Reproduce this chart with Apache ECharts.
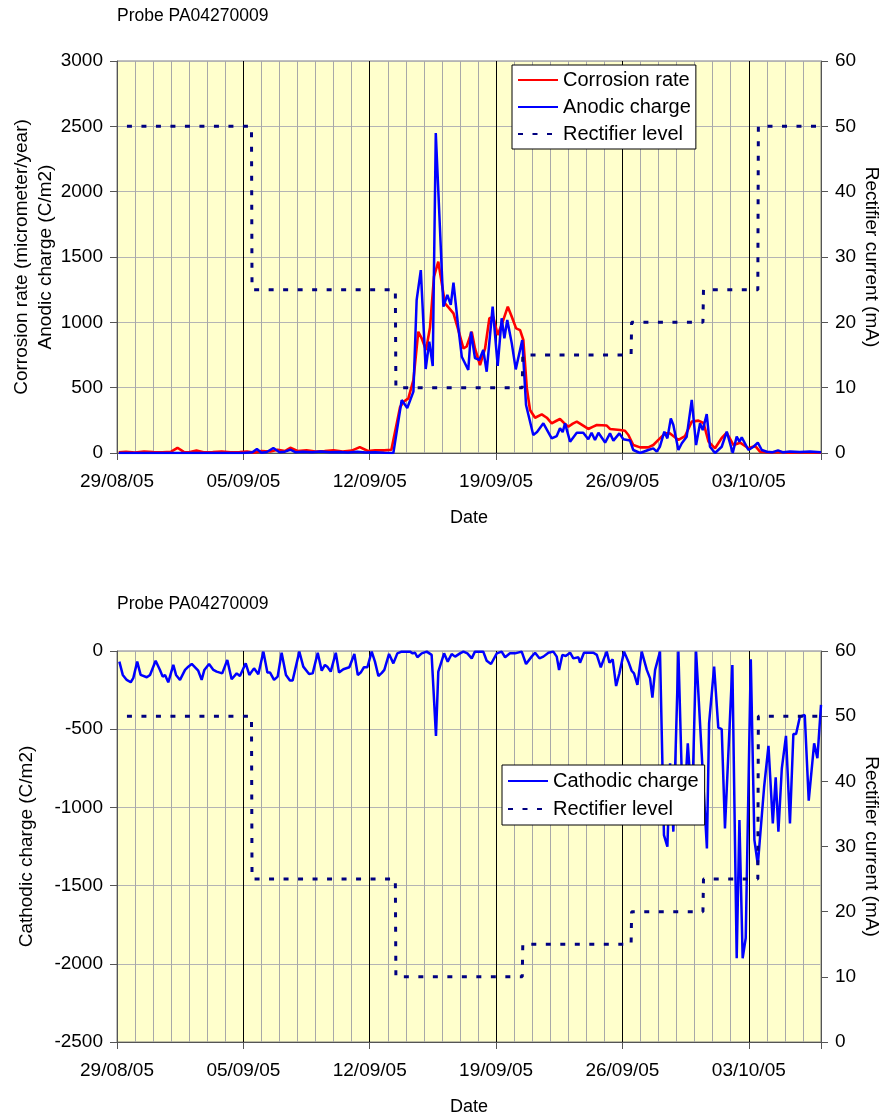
<!DOCTYPE html>
<html>
<head>
    <meta charset="utf-8">
    <script src="https://cdn.jsdelivr.net/npm/echarts@6/dist/echarts.min.js"></script>
    <style>
        body { margin: 0; background: #fff; }
    </style>
</head>
<body>
    <div id="main" style="width: 885px;height:1116px;"></div>
    <script type="text/javascript">

    // x values are days since 29/08/05 00:00
    var startDay = [2005, 7, 29];
    var probeTitle = 'Probe PA04270009';

    var corrosionRate = [
        [0.1, 5], [0.5, 10], [1.0, 4], [1.5, 12], [2.0, 8], [2.5, 5], [3.0, 10], [3.35, 40], [3.7, 8],
        [4.0, 5], [4.4, 20], [4.8, 5], [5.3, 8], [5.8, 12], [6.3, 5], [6.8, 8], [7.2, 12], [7.6, 3],
        [8.0, 15], [8.5, 12], [8.9, 25], [9.3, 15], [9.6, 40], [10.0, 15], [10.5, 20], [11.0, 12],
        [11.5, 15], [12.0, 20], [12.5, 12], [13.0, 18], [13.45, 45], [13.9, 15], [14.3, 20], [14.8, 20],
        [15.2, 25], [15.31, 20], [15.68, 350], [15.86, 390], [16.14, 418], [16.42, 558], [16.69, 928],
        [16.88, 878], [17.12, 788], [17.34, 960], [17.56, 1349], [17.8, 1464], [17.99, 1300], [18.17, 1145],
        [18.41, 1107], [18.64, 1069], [18.91, 941], [19.19, 800], [19.37, 815], [19.65, 928], [19.83, 800],
        [20.11, 673], [20.39, 800], [20.63, 1031], [20.85, 1040], [21.09, 903], [21.37, 1005], [21.65, 1120],
        [21.87, 1043], [22.11, 954], [22.33, 940], [22.51, 865], [22.7, 500], [22.88, 329], [23.16, 270],
        [23.53, 296], [23.81, 270], [24.08, 227], [24.32, 245], [24.54, 260], [24.76, 230], [25.0, 201],
        [25.25, 225], [25.47, 240], [25.76, 215], [26.11, 184], [26.35, 200], [26.58, 214], [27.13, 210],
        [27.31, 184], [27.59, 180], [27.87, 176], [28.14, 170], [28.33, 138], [28.6, 61], [28.98, 43],
        [29.43, 43], [29.71, 61], [29.99, 100], [30.36, 150], [30.64, 150], [31.1, 100], [31.47, 130],
        [31.84, 240], [32.21, 248], [32.49, 230], [32.77, 87], [33.13, 36], [33.5, 115], [33.78, 155],
        [34.15, 61], [34.52, 79], [34.98, 36], [35.35, 54], [35.62, 10], [36.18, 5], [36.73, 8],
        [37.28, 3], [37.83, 6], [38.39, 4], [39.0, 3]
    ];

    var anodicCharge = [
        [0.1, 0], [7.0, 0], [7.5, 5], [7.75, 30], [8.0, 2], [8.3, 8], [8.66, 38], [9.0, 5], [9.3, 10],
        [9.6, 25], [9.9, 5], [10.3, 10], [10.8, 5], [11.3, 12], [11.8, 5], [12.3, 8], [12.8, 3], [13.3, 10],
        [13.8, 3], [14.3, 5], [14.8, 2], [15.31, 0], [15.77, 405], [16.08, 344], [16.42, 470], [16.6, 1171],
        [16.83, 1400], [17.1, 643], [17.3, 852], [17.49, 666], [17.66, 2449], [18.08, 1120], [18.3, 1209],
        [18.49, 1133], [18.64, 1303], [18.88, 995], [19.1, 737], [19.46, 635], [19.61, 928], [19.83, 727],
        [20.07, 712], [20.29, 788], [20.48, 622], [20.81, 1120], [21.09, 666], [21.31, 1031], [21.46, 878],
        [21.62, 1018], [21.87, 839], [22.09, 640], [22.45, 865], [22.66, 367], [23.06, 138], [23.27, 160],
        [23.62, 227], [24.08, 112], [24.36, 130], [24.54, 189], [24.69, 160], [24.82, 227], [25.1, 87],
        [25.47, 155], [25.83, 155], [26.11, 105], [26.29, 155], [26.48, 100], [26.67, 155], [27.04, 80],
        [27.31, 150], [27.5, 95], [27.83, 150], [28.05, 105], [28.42, 95], [28.6, 23], [28.98, 0],
        [29.43, 23], [29.71, 35], [29.9, 10], [30.08, 50], [30.32, 163], [30.49, 112], [30.68, 265],
        [30.82, 214], [31.1, 23], [31.29, 75], [31.56, 125], [31.84, 406], [32.08, 61], [32.3, 227],
        [32.45, 175], [32.67, 298], [32.85, 48], [33.13, 0], [33.5, 48], [33.78, 163], [34.11, 0],
        [34.33, 125], [34.48, 87], [34.61, 120], [34.98, 23], [35.26, 48], [35.5, 79], [35.72, 23],
        [36.0, 10], [36.29, 5], [36.62, 20], [36.9, 5], [37.28, 12], [37.83, 8], [38.39, 12], [39.0, 5]
    ];

    var cathodicCharge = [
        [0.13, -68], [0.32, -153], [0.54, -185], [0.76, -200], [0.9, -174], [1.12, -68], [1.31, -153],
        [1.65, -168], [1.83, -153], [2.14, -62], [2.38, -121], [2.53, -164], [2.66, -153], [2.84, -200],
        [3.12, -89], [3.27, -153], [3.49, -185], [3.77, -121], [3.95, -100], [4.14, -83], [4.38, -111],
        [4.5, -126], [4.69, -185], [4.84, -121], [5.1, -83], [5.34, -121], [5.52, -132], [5.83, -143],
        [6.11, -57], [6.35, -181], [6.63, -143], [6.81, -160], [7.13, -79], [7.33, -153], [7.59, -111],
        [7.83, -149], [8.11, -4], [8.33, -138], [8.48, -138], [8.7, -185], [8.9, -164], [9.12, -11],
        [9.36, -153], [9.58, -189], [9.73, -189], [10.1, -4], [10.32, -100], [10.64, -147], [10.84, -143],
        [11.12, -11], [11.34, -126], [11.52, -89], [11.65, -100], [11.84, -132], [12.12, -11], [12.3, -138],
        [12.54, -117], [12.87, -104], [13.15, -19], [13.34, -153], [13.5, -138], [13.68, -104], [13.87, -104],
        [14.11, -4], [14.29, -68], [14.48, -160], [14.67, -140], [14.81, -121], [15.07, -19], [15.31, -79],
        [15.53, -15], [15.77, -4], [16.05, -4], [16.23, -4], [16.38, -15], [16.51, -11], [16.64, -40],
        [16.88, -15], [17.16, -4], [17.43, -25], [17.67, -543], [17.8, -132], [18.12, -15], [18.32, -68],
        [18.54, -19], [18.73, -36], [19.0, -15], [19.19, -4], [19.41, -15], [19.65, -47], [19.83, -4],
        [20.29, -4], [20.48, -62], [20.72, -83], [21.04, -15], [21.31, -4], [21.5, -40], [21.77, -15],
        [22.05, -15], [22.42, -4], [22.66, -83], [22.97, -36], [23.16, -11], [23.4, -47], [23.62, -36],
        [23.9, -11], [24.17, -4], [24.36, -36], [24.49, -121], [24.67, -25], [24.86, -32], [25.1, -11],
        [25.28, -47], [25.56, -40], [25.65, -75], [25.87, -11], [26.39, -11], [26.58, -25], [26.8, -104],
        [26.98, -47], [27.13, -4], [27.28, -75], [27.46, -53], [27.65, -224], [27.83, -143], [28.09, -4],
        [28.33, -68], [28.51, -126], [28.64, -143], [28.83, -217], [29.07, -4], [29.35, -121], [29.53, -175],
        [29.66, -298], [29.81, -121], [30.08, -4], [30.3, -1177], [30.49, -1251], [30.64, -718],
        [30.82, -1155], [31.1, -4], [31.36, -1100], [31.62, -590], [31.86, -1000], [32.08, -4],
        [32.68, -1262], [32.8, -462], [33.08, -100], [33.31, -490], [33.5, -500], [33.68, -1134],
        [34.09, -90], [34.33, -1965], [34.48, -1081], [34.66, -1965], [34.83, -1835], [35.11, -53],
        [35.31, -1208], [35.5, -1368], [35.85, -868], [36.09, -607], [36.33, -1102], [36.49, -808],
        [36.64, -1155], [36.83, -750], [37.06, -543], [37.28, -1102], [37.47, -531], [37.62, -531],
        [37.83, -420], [38.1, -409], [38.32, -957], [38.62, -590], [38.8, -686], [39.0, -345]
    ];

    var rectifierLevel = [
        [0.55, 50], [7.45, 50], [7.48, 25], [15.42, 25], [15.45, 10], [22.45, 10], [22.48, 15],
        [28.48, 15], [28.51, 20], [32.46, 20], [32.49, 25], [35.5, 25], [35.53, 50], [39, 50]
    ];

    var fontFamily = 'Liberation Sans, Arial, sans-serif';

    function fmtDate(v) {
        if (v % 7 !== 0) return '';
        var d = new Date(startDay[0], startDay[1], startDay[2] + v);
        var dd = ('0' + d.getDate()).slice(-2);
        var mm = ('0' + (d.getMonth() + 1)).slice(-2);
        var yy = ('' + d.getFullYear()).slice(-2);
        return dd + '/' + mm + '/' + yy;
    }

    function plainNum(v) {
        return String(v);
    }

    function dayAxis(gi) {
        return {
            type: 'value', gridIndex: gi, position: 'top', min: 0, max: 39, interval: 1,
            axisLine: {show: false, onZero: false},
            axisTick: {show: false},
            axisLabel: {show: false},
            splitLine: {show: true, lineStyle: {color: '#a8a8a8', width: 1}}
        };
    }

    function weekAxis(gi) {
        return {
            type: 'value', gridIndex: gi, position: 'bottom', min: 0, max: 39, interval: 7,
            name: 'Date', nameLocation: 'middle', nameGap: 56, nameMoveOverlap: false,
            nameTextStyle: {fontSize: 18, color: '#000', fontFamily: fontFamily},
            axisLine: {show: true, onZero: false, lineStyle: {color: '#555', width: 1}},
            axisTick: {show: true, length: 7, lineStyle: {color: '#555'}},
            axisLabel: {margin: 19, fontSize: 19, color: '#000', fontFamily: fontFamily, formatter: fmtDate},
            splitLine: {show: true, lineStyle: {color: '#000', width: 1}}
        };
    }

    function leftAxis(gi, min, max, name, gap) {
        return {
            type: 'value', gridIndex: gi, position: 'left', min: min, max: max, interval: 500,
            name: name, nameLocation: 'middle', nameRotate: 90, nameGap: gap, nameMoveOverlap: false,
            nameTextStyle: {fontSize: 19, color: '#000', fontFamily: fontFamily, lineHeight: 24},
            axisLine: {show: true, onZero: false, lineStyle: {color: '#555'}},
            axisTick: {show: true, length: 7, lineStyle: {color: '#555'}},
            axisLabel: {margin: 14, fontSize: 19, color: '#000', fontFamily: fontFamily, formatter: plainNum},
            splitLine: {show: true, lineStyle: {color: '#b4b4b4', width: 1}}
        };
    }

    function rightAxis(gi) {
        return {
            type: 'value', gridIndex: gi, position: 'right', min: 0, max: 60, interval: 10,
            name: 'Rectifier current (mA)', nameLocation: 'middle', nameRotate: -90, nameGap: 41, nameMoveOverlap: false,
            nameTextStyle: {fontSize: 19, color: '#000', fontFamily: fontFamily},
            axisLine: {show: true, onZero: false, lineStyle: {color: '#555'}},
            axisTick: {show: true, length: 7, lineStyle: {color: '#555'}},
            axisLabel: {margin: 14, fontSize: 19, color: '#000', fontFamily: fontFamily, formatter: plainNum},
            splitLine: {show: false}
        };
    }

    var rectStyle = {color: '#000080', width: 3, type: [5, 9.5], cap: 'butt'};
    var titleStyle = {fontSize: 17.5, fontWeight: 'normal', color: '#000', fontFamily: fontFamily};

    var myChart = echarts.init(document.getElementById('main'));

    myChart.setOption({
        animation: false,
        backgroundColor: '#fff',
        textStyle: {fontFamily: fontFamily},
        title: [
            {text: probeTitle, left: 117, top: 7, padding: 0, textStyle: titleStyle},
            {text: probeTitle, left: 117, top: 595, padding: 0, textStyle: titleStyle}
        ],
        legend: [
            {
                orient: 'vertical', left: 512, top: 65,
                data: ['Corrosion rate', 'Anodic charge', 'Rectifier level'],
                itemWidth: 40, itemHeight: 14, itemGap: 7,
                padding: [5, 5, 5, 5],
                itemStyle: {opacity: 0},
                backgroundColor: '#fff', borderColor: '#000', borderWidth: 1, borderRadius: 0,
                textStyle: {fontSize: 20, color: '#000', lineHeight: 20}
            },
            {
                orient: 'vertical', left: 502, top: 765,
                data: ['Cathodic charge', 'Rectifier level'],
                itemWidth: 40, itemHeight: 14, itemGap: 8,
                padding: [6, 6, 6, 5],
                itemStyle: {opacity: 0},
                backgroundColor: '#fff', borderColor: '#000', borderWidth: 1, borderRadius: 0,
                textStyle: {fontSize: 20, color: '#000', lineHeight: 20}
            }
        ],
        grid: [
            {left: 117, top: 61, width: 704, height: 392, outerBoundsMode: 'none', show: true, backgroundColor: '#ffffcc', borderColor: '#808080', borderWidth: 1},
            {left: 117, top: 651, width: 704, height: 391, outerBoundsMode: 'none', show: true, backgroundColor: '#ffffcc', borderColor: '#808080', borderWidth: 1}
        ],
        xAxis: [dayAxis(0), weekAxis(0), dayAxis(1), weekAxis(1)],
        yAxis: [
            leftAxis(0, 0, 3000, 'Corrosion rate (micrometer/year)\nAnodic charge (C/m2)', 59),
            rightAxis(0),
            leftAxis(1, -2500, 0, 'Cathodic charge (C/m2)', 78),
            rightAxis(1)
        ],
        series: [
            {
                name: 'Corrosion rate', type: 'line', xAxisIndex: 1, yAxisIndex: 0,
                data: corrosionRate, symbol: 'none', color: '#ff0000',
                lineStyle: {color: '#ff0000', width: 2.6}
            },
            {
                name: 'Anodic charge', type: 'line', xAxisIndex: 1, yAxisIndex: 0,
                data: anodicCharge, symbol: 'none', color: '#0000ff',
                lineStyle: {color: '#0000ff', width: 2.5}
            },
            {
                name: 'Rectifier level', type: 'line', xAxisIndex: 1, yAxisIndex: 1,
                data: rectifierLevel, symbol: 'none', color: '#000080',
                lineStyle: rectStyle
            },
            {
                name: 'Cathodic charge', type: 'line', xAxisIndex: 3, yAxisIndex: 2,
                data: cathodicCharge, symbol: 'none', color: '#0000ff',
                lineStyle: {color: '#0000ff', width: 2.5}
            },
            {
                name: 'Rectifier level', type: 'line', xAxisIndex: 3, yAxisIndex: 3,
                data: rectifierLevel, symbol: 'none', color: '#000080',
                lineStyle: rectStyle
            }
        ]
    });
</script>
</body>
</html>
